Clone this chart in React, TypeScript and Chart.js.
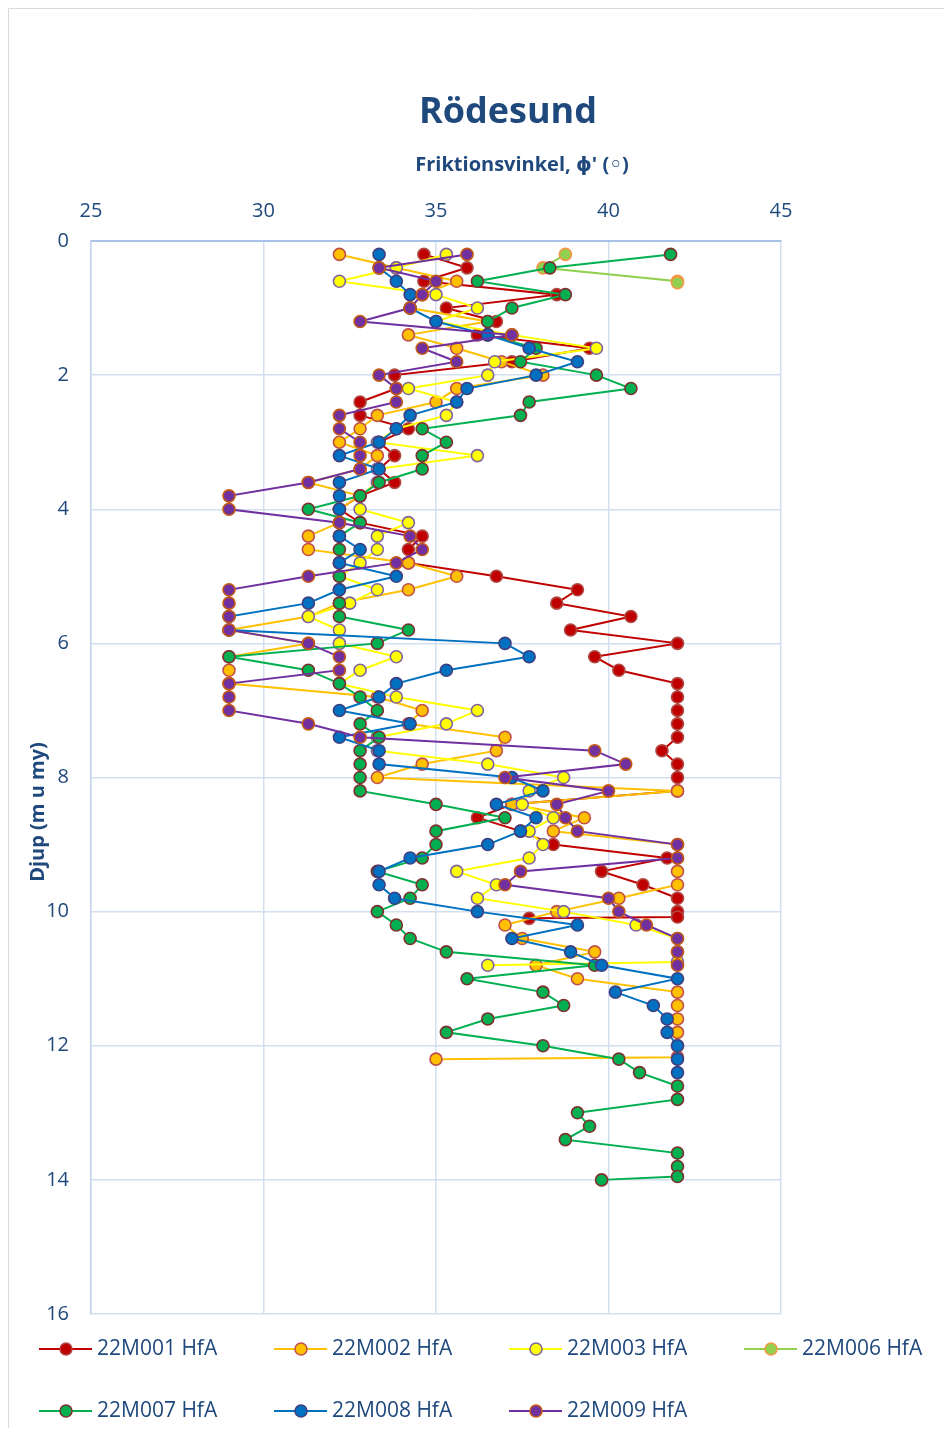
import React, { useEffect, useRef } from "react";
import { Chart, registerables } from "chart.js";

Chart.register(...registerables);

const TITLE = "Rödesund";
const X_TITLE = "Friktionsvinkel, ϕ' (◦)";
const Y_TITLE = "Djup (m u my)";

const xTickValues = [25, 30, 35, 40, 45];
const yTickValues = [0, 2, 4, 6, 8, 10, 12, 14, 16];

const seriesNames = [
  "22M001 HfA",
  "22M002 HfA",
  "22M003 HfA",
  "22M006 HfA",
  "22M007 HfA",
  "22M008 HfA",
  "22M009 HfA",
];

const depth001 = [0.2, 0.4, 0.6, 0.8, 1.0, 1.2, 1.4, 1.6, 1.8, 2.0, 2.2, 2.4, 2.6, 2.8, 3.0, 3.2, 3.4, 3.6, 3.8, 4.0, 4.2, 4.4, 4.6, 4.8, 5.0, 5.2, 5.4, 5.6, 5.8, 6.0, 6.2, 6.4, 6.6, 6.8, 7.0, 7.2, 7.4, 7.6, 7.8, 8.0, 8.2, 8.4, 8.6, 8.8, 9.0, 9.2, 9.4, 9.6, 9.8, 10.0, 10.08, 10.1];
const phi001 = [34.65, 35.9, 34.65, 38.5, 35.3, 36.75, 36.2, 39.45, 37.2, 33.8, 33.85, 32.8, 32.8, 34.2, 33.35, 33.8, 33.35, 33.8, 32.8, 32.2, 32.8, 34.6, 34.2, 34.2, 36.75, 39.1, 38.5, 40.65, 38.9, 42, 39.6, 40.3, 42, 42, 42, 42, 42, 41.55, 42, 42, 42, 37.2, 36.2, 37.45, 38.4, 41.7, 39.8, 41, 42, 42, 42, 37.7];

const depth002 = [0.2, 0.4, 0.6, 0.8, 1.0, 1.2, 1.4, 1.6, 1.8, 2.0, 2.2, 2.4, 2.6, 2.8, 3.0, 3.2, 3.4, 3.6, 3.8, 4.0, 4.2, 4.4, 4.6, 4.8, 5.0, 5.2, 5.4, 5.6, 5.8, 6.0, 6.2, 6.4, 6.6, 6.8, 7.0, 7.2, 7.4, 7.6, 7.8, 8.0, 8.2, 8.4, 8.6, 8.8, 9.0, 9.2, 9.4, 9.6, 9.8, 10.0, 10.2, 10.4, 10.6, 10.8, 11.0, 11.2, 11.4, 11.6, 11.8, 12.0, 12.17, 12.2];
const phi002 = [32.2, 33.85, 35.6, 34.6, 34.25, 36.5, 34.2, 35.6, 36.9, 38.1, 35.6, 35.0, 33.3, 32.8, 32.2, 33.3, 32.8, 31.3, 32.8, 32.2, 32.2, 31.3, 31.3, 34.2, 35.6, 34.2, 32.2, 31.3, 29, 31.3, 29, 29, 29, 33.3, 34.6, 34.2, 37, 36.75, 34.6, 33.3, 42, 37.2, 39.3, 38.4, 42, 42, 42, 42, 40.3, 38.5, 37, 37.5, 39.6, 37.9, 39.1, 42, 42, 42, 42, 42, 42, 35];

const depth003 = [0.2, 0.4, 0.6, 0.8, 1.0, 1.2, 1.4, 1.6, 1.8, 2.0, 2.2, 2.4, 2.6, 2.8, 3.0, 3.2, 3.4, 3.6, 3.8, 4.0, 4.2, 4.4, 4.6, 4.8, 5.0, 5.2, 5.4, 5.6, 5.8, 6.0, 6.2, 6.4, 6.6, 6.8, 7.0, 7.2, 7.4, 7.6, 7.8, 8.0, 8.2, 8.4, 8.6, 8.8, 9.0, 9.2, 9.4, 9.6, 9.8, 10.0, 10.2, 10.4, 10.6, 10.75, 10.8];
const phi003 = [35.3, 33.85, 32.2, 35, 36.2, 35, 37.2, 39.65, 36.7, 36.5, 34.2, 35.6, 35.3, 33.85, 33.3, 36.2, 33.3, 33.3, 32.8, 32.8, 34.2, 33.3, 33.3, 32.8, 32.2, 33.3, 32.5, 31.3, 32.2, 32.2, 33.85, 32.8, 32.2, 33.85, 36.2, 35.3, 33.3, 33.3, 36.5, 38.7, 37.7, 37.5, 38.4, 37.7, 38.1, 37.7, 35.6, 36.75, 36.2, 38.7, 40.8, 42, 42, 42, 36.5];

const depth006 = [0.2, 0.4, 0.6, 0.62];
const phi006 = [38.75, 38.1, 42, 42];

const depth007 = [0.2, 0.4, 0.6, 0.8, 1.0, 1.2, 1.4, 1.6, 1.8, 2.0, 2.2, 2.4, 2.6, 2.8, 3.0, 3.2, 3.4, 3.6, 3.8, 4.0, 4.2, 4.4, 4.6, 4.8, 5.0, 5.2, 5.4, 5.6, 5.8, 6.0, 6.2, 6.4, 6.6, 6.8, 7.0, 7.2, 7.4, 7.6, 7.8, 8.0, 8.2, 8.4, 8.6, 8.8, 9.0, 9.2, 9.4, 9.6, 9.8, 10.0, 10.2, 10.4, 10.6, 10.8, 11.0, 11.2, 11.4, 11.6, 11.8, 12.0, 12.2, 12.4, 12.6, 12.8, 13.0, 13.2, 13.4, 13.6, 13.8, 13.95, 14.0];
const phi007 = [41.8, 38.3, 36.2, 38.75, 37.2, 36.5, 36.5, 37.9, 37.45, 39.65, 40.65, 37.7, 37.45, 34.6, 35.3, 34.6, 34.6, 33.35, 32.8, 31.3, 32.8, 32.2, 32.2, 32.2, 32.2, 32.2, 32.2, 32.2, 34.2, 33.3, 29, 31.3, 32.2, 32.8, 33.3, 32.8, 33.35, 32.8, 32.8, 32.8, 32.8, 35, 37, 35, 35, 34.6, 33.3, 34.6, 34.25, 33.3, 33.85, 34.25, 35.3, 39.6, 35.9, 38.1, 38.7, 36.5, 35.3, 38.1, 40.3, 40.9, 42, 42, 39.1, 39.45, 38.75, 42, 42, 42, 39.8];

const depth008 = [0.2, 0.4, 0.6, 0.8, 1.0, 1.2, 1.4, 1.6, 1.8, 2.0, 2.2, 2.4, 2.6, 2.8, 3.0, 3.2, 3.4, 3.6, 3.8, 4.0, 4.2, 4.4, 4.6, 4.8, 5.0, 5.2, 5.4, 5.6, 5.8, 6.0, 6.2, 6.4, 6.6, 6.8, 7.0, 7.2, 7.4, 7.6, 7.8, 8.0, 8.2, 8.4, 8.6, 8.8, 9.0, 9.2, 9.4, 9.6, 9.8, 10.0, 10.2, 10.4, 10.6, 10.8, 11.0, 11.2, 11.4, 11.6, 11.8, 12.0, 12.2, 12.4];
const phi008 = [33.35, 33.35, 33.85, 34.25, 34.25, 35, 36.5, 37.7, 39.1, 37.9, 35.9, 35.6, 34.25, 33.85, 33.35, 32.2, 33.35, 32.2, 32.2, 32.2, 32.2, 32.2, 32.8, 32.2, 33.85, 32.2, 31.3, 29, 29, 37, 37.7, 35.3, 33.85, 33.35, 32.2, 34.25, 32.2, 33.35, 33.35, 37.2, 38.1, 36.75, 37.9, 37.45, 36.5, 34.25, 33.35, 33.35, 33.8, 36.2, 39.1, 37.2, 38.9, 39.8, 42, 40.2, 41.3, 41.7, 41.7, 42, 42, 42];

const depth009 = [0.2, 0.4, 0.6, 0.8, 1.0, 1.2, 1.4, 1.6, 1.8, 2.0, 2.2, 2.4, 2.6, 2.8, 3.0, 3.2, 3.4, 3.6, 3.8, 4.0, 4.2, 4.4, 4.6, 4.8, 5.0, 5.2, 5.4, 5.6, 5.8, 6.0, 6.2, 6.4, 6.6, 6.8, 7.0, 7.2, 7.4, 7.6, 7.8, 8.0, 8.2, 8.4, 8.6, 8.8, 9.0, 9.2, 9.4, 9.6, 9.8, 10.0, 10.2, 10.4, 10.6, 10.8];
const phi009 = [35.9, 33.35, 35, 34.6, 34.25, 32.8, 37.2, 34.6, 35.6, 33.35, 33.85, 33.85, 32.2, 32.2, 32.8, 32.8, 32.8, 31.3, 29, 29, 32.2, 34.25, 34.6, 33.85, 31.3, 29, 29, 29, 29, 31.3, 32.2, 32.2, 29, 29, 29, 31.3, 32.8, 39.6, 40.5, 37, 40, 38.5, 38.75, 39.1, 42, 42, 37.45, 37, 40, 40.3, 41.1, 42, 42, 42];

const seriesDepths = [depth001, depth002, depth003, depth006, depth007, depth008, depth009];
const seriesPhis = [phi001, phi002, phi003, phi006, phi007, phi008, phi009];

// styles (not data)
const lineColors = ["#C00000", "#FFC000", "#FFFF00", "#92D050", "#00B050", "#0070C0", "#7030A0"];
const fillColors = ["#C00000", "#FFC000", "#FFFF00", "#92D050", "#00B050", "#0070C0", "#7030A0"];
const edgeColors = ["#B04A44", "#C0504D", "#8064A2", "#F79646", "#7F2F2F", "#3F3F7F", "#C55A11"];

const TEXT_COLOR = "#1F497D";
const FONT = "'Open Sans', 'DejaVu Sans', sans-serif";

const decorPlugin = {
  id: "decor",
  afterDraw(chart: any) {
    const ctx = chart.ctx as CanvasRenderingContext2D;
    ctx.save();
    ctx.strokeStyle = "#D9D9D9";
    ctx.lineWidth = 1;
    ctx.beginPath();
    ctx.moveTo(0.5, chart.height);
    ctx.lineTo(0.5, 0.5);
    ctx.lineTo(chart.width, 0.5);
    ctx.stroke();

    ctx.fillStyle = TEXT_COLOR;
    ctx.textAlign = "center";
    ctx.textBaseline = "alphabetic";
    ctx.font = `bold 36px ${FONT}`;
    ctx.fillText(TITLE, 500, 115);
    ctx.font = `bold 20px ${FONT}`;
    ctx.fillText(X_TITLE, 514, 163);

    ctx.save();
    ctx.translate(30, 804);
    ctx.rotate(-Math.PI / 2);
    ctx.textBaseline = "middle";
    ctx.fillText(Y_TITLE, 0, 0);
    ctx.restore();

    ctx.font = `21px ${FONT}`;
    ctx.textAlign = "left";
    ctx.textBaseline = "middle";
    chart.data.datasets.forEach((ds: any, i: number) => {
      const col = i % 4;
      const row = Math.floor(i / 4);
      const x0 = 31 + col * 235;
      const y = 1341 + row * 62;
      ctx.strokeStyle = ds.borderColor;
      ctx.lineWidth = 2;
      ctx.beginPath();
      ctx.moveTo(x0, y);
      ctx.lineTo(x0 + 53, y);
      ctx.stroke();
      ctx.beginPath();
      ctx.arc(x0 + 27, y, 6, 0, Math.PI * 2);
      ctx.fillStyle = ds.pointBackgroundColor;
      ctx.fill();
      ctx.lineWidth = 1.5;
      ctx.strokeStyle = ds.pointBorderColor;
      ctx.stroke();
      ctx.fillStyle = TEXT_COLOR;
      ctx.fillText(ds.label, x0 + 58, y);
    });
    ctx.restore();
  },
};

export default function App() {
  const ref = useRef<HTMLCanvasElement | null>(null);

  useEffect(() => {
    if (!ref.current) return;
    const n = seriesNames.length;
    const datasets = seriesNames.map((name, i) => ({
      label: name,
      data: seriesDepths[i].map((d, k) => ({ x: seriesPhis[i][k], y: d })),
      showLine: true,
      borderColor: lineColors[i],
      backgroundColor: fillColors[i],
      borderWidth: 2,
      pointRadius: 6,
      pointBorderWidth: 1.6,
      pointBackgroundColor: fillColors[i],
      pointBorderColor: edgeColors[i],
      tension: 0,
      order: n - i,
    }));

    const chart = new Chart(ref.current, {
      type: "scatter",
      data: { datasets },
      plugins: [decorPlugin],
      options: {
        animation: false,
        responsive: false,
        events: [],
        layout: { padding: { left: 17, right: 163, top: 0, bottom: 114 } },
        plugins: {
          legend: { display: false },
          tooltip: { enabled: false },
          title: { display: false },
        },
        scales: {
          x: {
            type: "linear",
            position: "top",
            min: 25,
            max: 45,
            afterBuildTicks: (scale: any) => {
              scale.ticks = xTickValues.map((v) => ({ value: v }));
            },
            afterFit: (scale: any) => {
              scale.height = 233;
            },
            ticks: {
              padding: 18,
              color: TEXT_COLOR,
              font: { family: FONT, size: 20 },
            },
            grid: { color: "#D3DFF0", lineWidth: 1.5, drawTicks: false },
            border: { color: "#A9C3E8", width: 2 },
          },
          y: {
            type: "linear",
            reverse: true,
            min: 0,
            max: 16,
            afterBuildTicks: (scale: any) => {
              scale.ticks = yTickValues.map((v) => ({ value: v }));
            },
            afterFit: (scale: any) => {
              scale.width = 66;
            },
            ticks: {
              padding: 22,
              color: TEXT_COLOR,
              font: { family: FONT, size: 20 },
            },
            grid: { color: "#D3DFF0", lineWidth: 1.5, drawTicks: false },
            border: { color: "#C3D4EC", width: 1.5 },
          },
        },
      } as any,
    });
    return () => chart.destroy();
  }, []);

  return (
    <div style={{ width: 936, height: 1420 }}>
      <canvas ref={ref} width={936} height={1420} />
    </div>
  );
}
